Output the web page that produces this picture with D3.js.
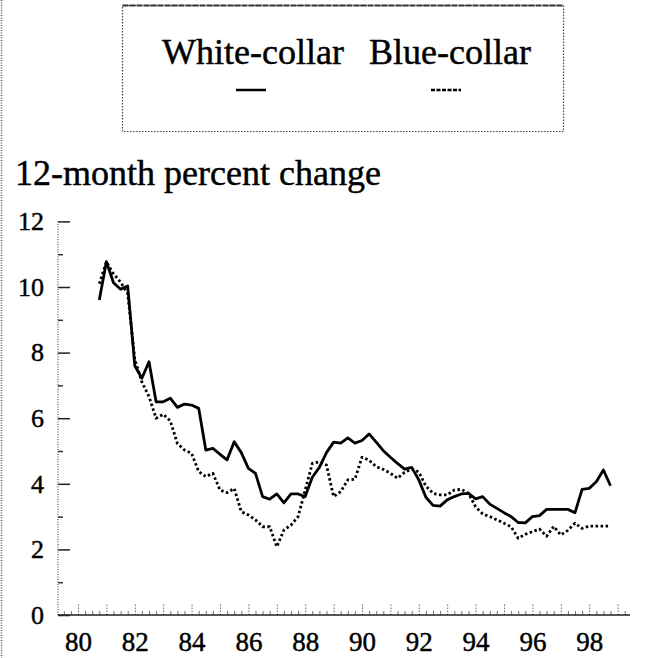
<!DOCTYPE html>
<html>
<head>
<meta charset="utf-8">
<script src="https://cdn.jsdelivr.net/npm/d3@7"></script>
<style>
  html, body { margin: 0; padding: 0; background: #fff; }
  svg { display: block; }
  text { font-family: "Liberation Serif", "Times New Roman", "DejaVu Serif", serif; fill: #000; stroke: #000; stroke-width: 0.45px; }
</style>
</head>
<body>
<svg id="chart" width="671" height="658"></svg>
<script>
// ---- data ----
const quarters = [
  "1980Q3","1980Q4",
  "1981Q1","1981Q2","1981Q3","1981Q4",
  "1982Q1","1982Q2","1982Q3","1982Q4",
  "1983Q1","1983Q2","1983Q3","1983Q4",
  "1984Q1","1984Q2","1984Q3","1984Q4",
  "1985Q1","1985Q2","1985Q3","1985Q4",
  "1986Q1","1986Q2","1986Q3","1986Q4",
  "1987Q1","1987Q2","1987Q3","1987Q4",
  "1988Q1","1988Q2","1988Q3","1988Q4",
  "1989Q1","1989Q2","1989Q3","1989Q4",
  "1990Q1","1990Q2","1990Q3","1990Q4",
  "1991Q1","1991Q2","1991Q3","1991Q4",
  "1992Q1","1992Q2","1992Q3","1992Q4",
  "1993Q1","1993Q2","1993Q3","1993Q4",
  "1994Q1","1994Q2","1994Q3","1994Q4",
  "1995Q1","1995Q2","1995Q3","1995Q4",
  "1996Q1","1996Q2","1996Q3","1996Q4",
  "1997Q1","1997Q2","1997Q3","1997Q4",
  "1998Q1","1998Q2","1998Q3"
];
const whiteCollar = [
  9.60, 10.77,
  10.13, 9.93, 10.03, 7.60,
  7.22, 7.72, 6.50, 6.50,
  6.61, 6.33, 6.43, 6.40,
  6.30, 5.03, 5.08, 4.90,
  4.73, 5.28, 4.95, 4.47,
  4.32, 3.61, 3.53, 3.69,
  3.42, 3.69, 3.69, 3.61,
  4.20, 4.50, 4.95, 5.27,
  5.24, 5.40, 5.24, 5.32,
  5.52, 5.27, 5.01, 4.81,
  4.62, 4.45, 4.50, 4.12,
  3.59, 3.34, 3.32, 3.51,
  3.61, 3.69, 3.71, 3.54,
  3.61, 3.38, 3.25, 3.12,
  3.00, 2.82, 2.81, 3.00,
  3.03, 3.22, 3.22, 3.22,
  3.22, 3.12, 3.83, 3.86,
  4.06, 4.42, 3.94
];
const blueCollar = [
  10.10, 10.77,
  10.40, 10.15, 9.80, 7.80,
  7.10, 6.66, 6.00, 6.12,
  5.92, 5.23, 5.03, 4.93,
  4.37, 4.22, 4.32, 3.81,
  3.73, 3.86, 3.15, 3.05,
  2.90, 2.69, 2.69, 2.08,
  2.59, 2.74, 3.00, 3.81,
  4.62, 4.67, 4.57, 3.61,
  3.76, 4.12, 4.14, 4.81,
  4.72, 4.52, 4.44, 4.32,
  4.17, 4.35, 4.45, 4.36,
  3.93, 3.71, 3.66, 3.66,
  3.81, 3.83, 3.71, 3.30,
  3.08, 3.00, 2.90, 2.80,
  2.69, 2.34, 2.46, 2.54,
  2.62, 2.40, 2.70, 2.44,
  2.58, 2.80, 2.64, 2.71,
  2.71, 2.71, 2.71
];
const seriesNames = ["White-collar", "Blue-collar"];
const yTicks = [0, 2, 4, 6, 8, 10, 12];
const yMinorTicks = [1, 3, 5, 7, 9, 11];
const xTickYears = [80, 82, 84, 86, 88, 90, 92, 94, 96, 98];
const xYearTicks = [80,81,82,83,84,85,86,87,88,89,90,91,92,93,94,95,96,97,98,99];
const yAxisTitle = "12-month percent change";

// ---- helpers ----
const qToYear = q => (+q.slice(0, 4) - 1900) + (+q.slice(5)) * 0.25;
const xQuarterTicks = d3.range(79.5, 99.3, 0.25).filter(v => Math.abs(v - Math.round(v)) > 0.01);

// ---- layout ----
const svg = d3.select("#chart");
svg.append("rect").attr("width", 671).attr("height", 658).attr("fill", "#fff");

const x = d3.scaleLinear().domain([80, 98]).range([78, 589.2]);
const y = d3.scaleLinear().domain([0, 12]).range([615, 221.4]);
const xAxisLeft = 58, xAxisRight = 630;

// page frame left edge (dotted)
svg.append("line").attr("x1", 1.5).attr("x2", 1.5).attr("y1", 0).attr("y2", 658)
  .attr("stroke", "#555").attr("stroke-width", 1.5).attr("stroke-dasharray", "1,1.5");

// legend box
const legend = svg.append("g");
legend.append("rect").attr("x", 122.5).attr("y", 5.5).attr("width", 441).attr("height", 126)
  .attr("fill", "none").attr("stroke", "#444").attr("stroke-width", 1.2).attr("stroke-dasharray", "1.5,1.5");
legend.append("line").attr("x1", 122.5).attr("x2", 563.5).attr("y1", 5.5).attr("y2", 5.5)
  .attr("stroke", "#333").attr("stroke-width", 2).attr("stroke-dasharray", "6,1");
const legendItems = [
  { name: seriesNames[0], cx: 253, lx: 251, dash: null },
  { name: seriesNames[1], cx: 450, lx: 446, dash: "4,1.5" }
];
legendItems.forEach(it => {
  legend.append("text").attr("x", it.cx).attr("y", 64).attr("text-anchor", "middle")
    .attr("font-size", 36).text(it.name);
  legend.append("line").attr("x1", it.lx - 15).attr("x2", it.lx + 15).attr("y1", 90).attr("y2", 90)
    .attr("stroke", "#000").attr("stroke-width", 2.5).attr("stroke-dasharray", it.dash);
});

// y axis title
svg.append("text").attr("x", 15).attr("y", 185).attr("font-size", 36).text(yAxisTitle);

// y axis
const gy = svg.append("g").attr("transform", `translate(${xAxisLeft},0)`);
gy.call(d3.axisLeft(y).tickValues(yTicks).tickSize(-12).tickPadding(14).tickFormat(d3.format("d")));
gy.select(".domain").remove();
gy.selectAll(".tick line").attr("stroke", "#222").attr("stroke-width", 1.5);
gy.selectAll(".tick text").attr("font-size", 26).attr("font-family", "Liberation Serif, Times New Roman, serif");
const gyMinor = svg.append("g").attr("transform", `translate(${xAxisLeft},0)`);
gyMinor.call(d3.axisLeft(y).tickValues(yMinorTicks).tickSize(-5).tickFormat(""));
gyMinor.select(".domain").remove();
gyMinor.selectAll(".tick line").attr("stroke", "#333").attr("stroke-width", 1.5);
svg.append("line").attr("x1", xAxisLeft).attr("x2", xAxisLeft).attr("y1", y(12)).attr("y2", y(0))
  .attr("stroke", "#555").attr("stroke-width", 1.2).attr("stroke-dasharray", "1,1.5");

// x axis
const gx = svg.append("g").attr("transform", `translate(0,${y(0)})`);
gx.call(d3.axisBottom(x).tickValues(xTickYears).tickSize(0).tickPadding(17).tickFormat(d3.format("d")));
gx.select(".domain").remove();
gx.selectAll(".tick text").attr("font-size", 27).attr("font-family", "Liberation Serif, Times New Roman, serif");
const gxMajor = svg.append("g").attr("transform", `translate(0,${y(0)})`);
gxMajor.call(d3.axisBottom(x).tickValues(xYearTicks).tickSize(-11).tickFormat(""));
gxMajor.select(".domain").remove();
gxMajor.selectAll(".tick line").attr("stroke", "#666").attr("stroke-width", 1).attr("stroke-dasharray", "1.5,1.5");
const gxMinor = svg.append("g").attr("transform", `translate(0,${y(0)})`);
gxMinor.call(d3.axisBottom(x).tickValues(xQuarterTicks).tickSize(-4).tickFormat(""));
gxMinor.select(".domain").remove();
gxMinor.selectAll(".tick line").attr("stroke", "#777").attr("stroke-width", 1);
svg.append("line").attr("x1", xAxisLeft).attr("x2", xAxisRight).attr("y1", y(0)).attr("y2", y(0))
  .attr("stroke", "#222").attr("stroke-width", 1.6);

// lines
const line = d3.line().x(d => x(d.t)).y(d => y(d.v));
const wcData = quarters.map((q, i) => ({ t: qToYear(q), v: whiteCollar[i] }));
const bcData = quarters.map((q, i) => ({ t: qToYear(q), v: blueCollar[i] }));

svg.append("path").datum(bcData).attr("d", line).attr("fill", "none")
  .attr("stroke", "#000").attr("stroke-width", 2.8).attr("stroke-dasharray", "2.5,2.5")
  .attr("stroke-linejoin", "round");
svg.append("path").datum(wcData).attr("d", line).attr("fill", "none")
  .attr("stroke", "#000").attr("stroke-width", 2.8).attr("stroke-linejoin", "round");
</script>
</body>
</html>
